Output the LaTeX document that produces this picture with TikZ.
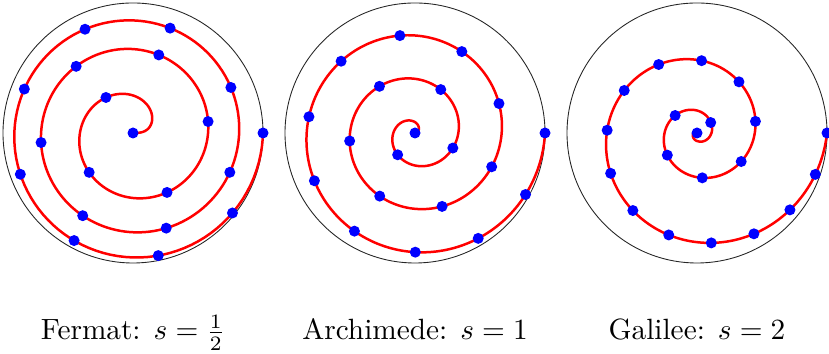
\documentclass[tikz,border=0pt]{standalone}
\usepackage{amsmath}
\begin{document}
\begin{tikzpicture}[x=0.012cm, y=0.012cm,
    rim/.style={line width=0.3pt, black!85},
    spiral/.style={line width=0.85pt, red, line join=round},
    dot/.style={fill=blue}]
  \useasboundingbox (0,0) rectangle (829,354);
  % spirals r = R (theta/6pi)^s over three turns, written with the radius u*R as parameter
  \foreach \cx/\ex/\nm/\lbl in {133/0.5/fermat/{Fermat: $s=\frac{1}{2}$},
                                415/1/archimede/{Archimede: $s=1$},
                                697/2/galilee/{Galilee: $s=2$}}{
    \coordinate (\nm) at (\cx,221);
    \pgfmathsetmacro\pw{1/\ex}
    \draw[rim] (\nm) circle (130);
    \draw[spiral, shift={(\nm)}, samples=600, domain=0.001:1]
      plot ({1080*\x^\pw}:{130*\x});
    % arc length, ds/du = R sqrt(1+(6 pi pw u^pw)^2)
    \xdef\spirlen{0}
    \foreach \i in {1,...,400}{
      \pgfmathsetmacro\ds{130*sqrt(1+(6*pi*\pw*((\i-0.5)/400)^\pw)^2)/400}
      \pgfmathsetmacro\tmp{\spirlen+\ds}
      \xdef\spirlen{\tmp}
    }
    % 20 dots equally spaced along the arc
    \pgfmathsetmacro\gap{\spirlen/19}
    \xdef\snext{\gap}\xdef\sacc{0}\xdef\kdot{1}
    \foreach \i in {1,...,400}{
      \pgfmathsetmacro\ds{130*sqrt(1+(6*pi*\pw*((\i-0.5)/400)^\pw)^2)/400}
      \pgfmathsetmacro\snew{\sacc+\ds}
      \ifdim\snew pt>\snext pt
        \ifnum\kdot<19
          \pgfmathsetmacro\ustar{(\i-1+(\snext-\sacc)/\ds)/400}
          \fill[dot, shift={(\nm)}] ({1080*\ustar^\pw}:{130*\ustar}) circle (5.5);
          \pgfmathsetmacro\tmp{\snext+\gap}\xdef\snext{\tmp}
          \pgfmathtruncatemacro\tmp{\kdot+1}\xdef\kdot{\tmp}
        \fi
      \fi
      \xdef\sacc{\snew}
    }
    \fill[dot] (\nm) circle (5.5);
    \fill[dot, shift={(\nm)}] (0:130) circle (5.5);
    % caption under each disc
    \node[anchor=base] (\nm-label) at (\cx,14) {\lbl};
  }
\end{tikzpicture}
\end{document}
